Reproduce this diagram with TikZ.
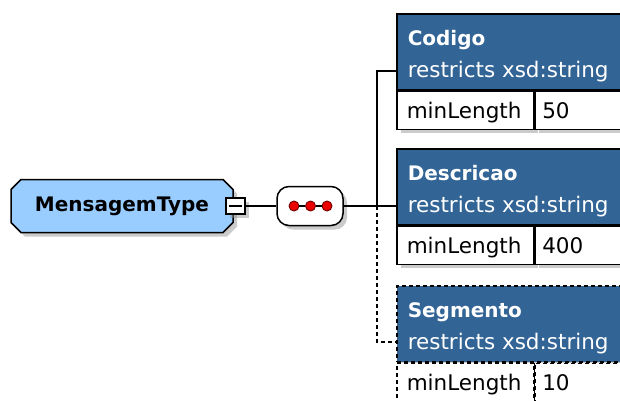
\documentclass[tikz,border=0pt]{standalone}
\usepackage{fontspec}
\setmainfont{DejaVu Sans}
\usetikzlibrary{shapes.misc,shadows}

\definecolor{typeblue}{RGB}{153,204,255}
\definecolor{elemblue}{RGB}{50,100,150}
\definecolor{dotred}{RGB}{235,0,0}

\tikzset{
  boxshadow/.style={drop shadow={shadow xshift=4pt,shadow yshift=-4pt,fill=black!45,opacity=.45}},
  typebox/.style={chamfered rectangle,chamfered rectangle xsep=5pt,chamfered rectangle ysep=5pt,
    draw,fill=typeblue,minimum width=222,minimum height=53,inner sep=0pt,
    font=\fontsize{20}{24}\selectfont\bfseries,boxshadow},
  minusbox/.style={draw,fill=white,minimum width=19,minimum height=16,inner sep=0pt,boxshadow},
  seqbox/.style={draw,fill=white,rounded corners=12pt,minimum width=66,minimum height=39,boxshadow},
  dotnode/.style={circle,draw=red!45!black,line width=.9pt,fill=dotred,inner sep=0pt,minimum size=10},
  hdr/.style={draw,fill=elemblue,anchor=north west,minimum width=250,minimum height=76,inner sep=0pt,boxshadow},
  cell/.style={draw,fill=white,anchor=north west,minimum height=38,inner sep=0pt,boxshadow},
  optline/.style={dash pattern=on 4pt off 3pt},
  ttl/.style={anchor=base west,inner sep=0pt,text=white,font=\fontsize{20}{24}\selectfont\bfseries},
  sub/.style={anchor=base west,inner sep=0pt,text=white,font=\fontsize{21.5}{26}\selectfont},
  fct/.style={anchor=base west,inner sep=0pt,font=\fontsize{21.5}{26}\selectfont}
}

\begin{document}
\begin{tikzpicture}[x=1pt,y=-1pt,line width=1.5pt]

  \path[use as bounding box,fill=white] (0,0) rectangle (620,400);
  \clip (0,0) rectangle (620,400);

  % the type and its sequence
  \node[typebox] (msg) at (122,206) {MensagemType};
  \node[minusbox] (minus) at (235.5,206) {};
  \draw ([xshift=4]minus.west) -- ([xshift=-4]minus.east);
  \node[seqbox] (seq) at (310,206) {};

  \begin{scope}[every node/.style={dotnode}]
    \node (d1) at (294,206) {};
    \node (d2) at (310.5,206) {};
    \node (d3) at (327,206) {};
  \end{scope}
  \draw[line width=1.2pt] (d1) -- (d2) (d2) -- (d3);

  % element boxes
  \begin{scope}[every node/.style={hdr}]
    \node (cod) at (396,13) {};
    \node (desc) at (396,148) {};
    \node[optline] (seg) at (396,285) {};
  \end{scope}

  \begin{scope}[every node/.style={cell}]
    \node[minimum width=137] (codf) at (cod.south west) {};
    \node[minimum width=113] (codv) at (codf.north east) {};
    \node[minimum width=137] (descf) at (desc.south west) {};
    \node[minimum width=113] (descv) at (descf.north east) {};
    \node[minimum width=137,optline] (segf) at (seg.south west) {};
    \node[minimum width=113,optline] (segv) at (segf.north east) {};
  \end{scope}
  \draw (segv.north west) -- (segv.south west);

  \node[ttl] (codt) at ([xshift=11,yshift=-32]cod.north west) {Codigo};
  \node[sub] (cods) at ([xshift=11,yshift=-64]cod.north west) {restricts xsd:string};
  \node[fct] (codfn) at ([xshift=10,yshift=-28]codf.north west) {minLength};
  \node[fct] (codvn) at ([xshift=7,yshift=-28]codv.north west) {50};

  \node[ttl] (desct) at ([xshift=11,yshift=-32]desc.north west) {Descricao};
  \node[sub] (descs) at ([xshift=11,yshift=-64]desc.north west) {restricts xsd:string};
  \node[fct] (descfn) at ([xshift=10,yshift=-28]descf.north west) {minLength};
  \node[fct] (descvn) at ([xshift=7,yshift=-28]descv.north west) {400};

  \node[ttl] (segt) at ([xshift=11,yshift=-32]seg.north west) {Segmento};
  \node[sub] (segs) at ([xshift=11,yshift=-64]seg.north west) {restricts xsd:string};
  \node[fct] (segfn) at ([xshift=10,yshift=-28]segf.north west) {minLength};
  \node[fct] (segvn) at ([xshift=7,yshift=-28]segv.north west) {10};

  % connectors
  \coordinate (fork) at (377,206);
  \draw (minus) -- (seq);
  \draw (seq) -- (fork);
  \draw (fork) |- ([yshift=-58]cod.north west);
  \draw (fork) -- (fork -| desc.west);
  \draw[optline] (fork) |- ([yshift=-57]seg.north west);

\end{tikzpicture}
\end{document}
